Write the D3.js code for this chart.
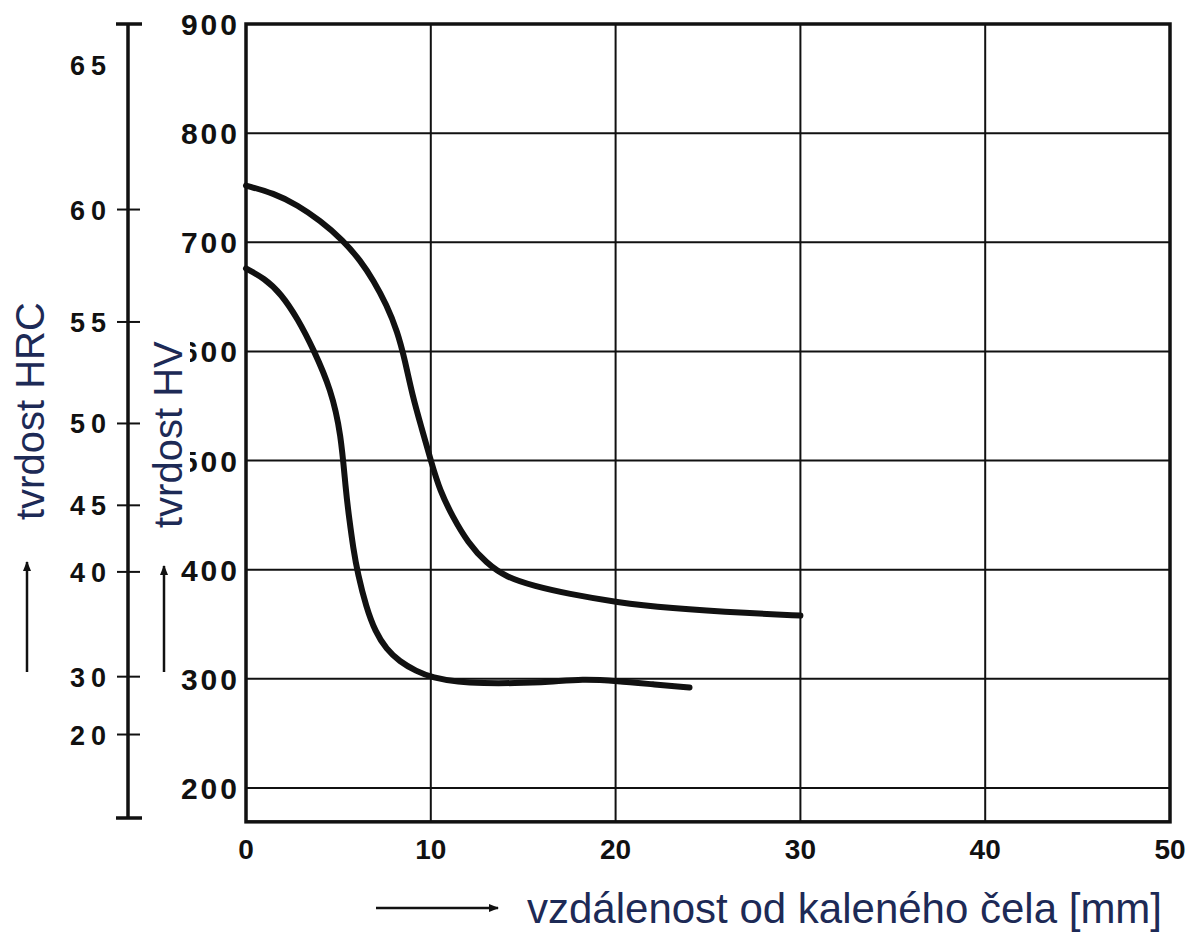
<!DOCTYPE html>
<html>
<head>
<meta charset="utf-8">
<script src="https://cdn.jsdelivr.net/npm/d3@7/dist/d3.min.js"></script>
<style>
  body { margin: 0; background: #fff; }
  svg { display: block; }
  .tick-num { font-family: "Liberation Sans", Arial, sans-serif; font-weight: bold; fill: #111; }
  .title { font-family: "Liberation Sans", Arial, sans-serif; fill: #1d2a56; }
</style>
</head>
<body>
<svg id="chart" width="1192" height="932"></svg>
<script>
// distance from quenched end [mm]
var xTicks = [0, 10, 20, 30, 40, 50];
var hvTicks = [200, 300, 400, 500, 600, 700, 800, 900];
// HRC scale drawn against the HV axis (HV equivalent of each HRC tick)
var hrcTicks = [65, 60, 55, 50, 45, 40, 30, 20];
var hrcAsHV = [862, 730, 627, 534, 459, 398, 302, 249];
var hrcTickShown = [false, true, true, true, true, true, true, true];

// upper curve
var upperX = [0, 1.5, 2.8, 4, 5.25, 6.2, 6.9, 7.6, 8.2, 8.6, 9.0, 9.5, 10.0, 10.5, 11.2, 12.0, 13.0, 14.1, 15.6, 17.4, 20.1, 22.8, 27.3, 30];
var upperHV = [752, 745, 734, 720, 702, 683, 665, 643, 618, 592, 560, 530, 500, 472, 448, 425, 406, 393, 385, 378, 370, 365, 360, 358];
// lower curve
var lowerX = [0, 1.0, 1.89, 2.8, 3.68, 4.6, 5.14, 5.4, 5.6, 5.8, 6.05, 6.5, 7.0, 7.6, 8.3, 9.2, 10.1, 11.5, 12.8, 14.5, 16.4, 18.2, 20.1, 22.0, 24.0];
var lowerHV = [676, 667, 653, 630, 601, 565, 525, 472, 445, 420, 396, 366, 343, 327, 316, 307, 301, 297, 296, 296, 297, 300, 298, 295, 292];

var svg = d3.select("#chart");

var x = d3.scaleLinear().domain([0, 50]).range([246, 1170]);
var y = d3.scaleLinear().domain([900, 200]).range([24, 788]);
var yBottom = 169; // HV value at the lower frame edge

// grid
var grid = svg.append("g").attr("stroke", "#111").attr("stroke-width", 2);
grid.selectAll(".hg").data(hvTicks).enter().append("line")
  .attr("x1", x(0)).attr("x2", x(50))
  .attr("y1", function (d) { return y(d); })
  .attr("y2", function (d) { return y(d); });
grid.selectAll(".vg").data(xTicks).enter().append("line")
  .attr("y1", y(900)).attr("y2", y(yBottom))
  .attr("x1", function (d) { return x(d); })
  .attr("x2", function (d) { return x(d); });

// frame
svg.append("rect")
  .attr("x", x(0)).attr("y", y(900))
  .attr("width", x(50) - x(0)).attr("height", y(yBottom) - y(900))
  .attr("fill", "none").attr("stroke", "#111").attr("stroke-width", 3.5);

// HV labels
svg.append("g").selectAll("text").data(hvTicks).enter().append("text")
  .attr("class", "tick-num")
  .attr("x", 240)
  .attr("y", function (d) { return y(d) + 11; })
  .attr("text-anchor", "end")
  .attr("font-size", 30)
  .attr("letter-spacing", 3)
  .text(function (d) { return d; });

// x labels
svg.append("g").selectAll("text").data(xTicks).enter().append("text")
  .attr("class", "tick-num")
  .attr("x", function (d) { return x(d); })
  .attr("y", 859)
  .attr("text-anchor", "middle")
  .attr("font-size", 28)
  .text(function (d) { return d; });

// HRC axis
var hrcX = 128;
var hrc = svg.append("g").attr("stroke", "#111");
hrc.append("line").attr("x1", hrcX).attr("x2", hrcX)
  .attr("y1", y(900)).attr("y2", 818).attr("stroke-width", 3.5);
hrc.append("line").attr("x1", hrcX - 12).attr("x2", hrcX + 14)
  .attr("y1", y(900)).attr("y2", y(900)).attr("stroke-width", 3.5);
hrc.append("line").attr("x1", hrcX - 12).attr("x2", hrcX + 14)
  .attr("y1", 818).attr("y2", 818).attr("stroke-width", 3.5);
hrc.selectAll(".ht").data(hrcAsHV.filter(function (d, i) { return hrcTickShown[i]; }))
  .enter().append("line")
  .attr("x1", hrcX - 11).attr("x2", hrcX + 12)
  .attr("y1", function (d) { return y(d); })
  .attr("y2", function (d) { return y(d); })
  .attr("stroke-width", 2);
svg.append("g").selectAll("text").data(hrcTicks).enter().append("text")
  .attr("class", "tick-num")
  .attr("x", 112)
  .attr("y", function (d, i) { return y(hrcAsHV[i]) + 10; })
  .attr("text-anchor", "end")
  .attr("font-size", 27)
  .attr("letter-spacing", 6)
  .text(function (d) { return d; });

// curves
var line = d3.line()
  .x(function (d) { return x(d[0]); })
  .y(function (d) { return y(d[1]); })
  .curve(d3.curveBasis);

var curves = [d3.zip(upperX, upperHV), d3.zip(lowerX, lowerHV)];
svg.append("g").selectAll("path").data(curves).enter().append("path")
  .attr("d", line)
  .attr("fill", "none")
  .attr("stroke", "#111")
  .attr("stroke-width", 6)
  .attr("stroke-linecap", "round");

// titles
var defs = svg.append("defs");
defs.append("marker").attr("id", "arr")
  .attr("viewBox", "0 0 10 10").attr("refX", 9).attr("refY", 5)
  .attr("markerWidth", 4).attr("markerHeight", 4).attr("orient", "auto")
  .append("path").attr("d", "M0,1 L10,5 L0,9 Z").attr("fill", "#111");

svg.append("rect").attr("x", 148).attr("y", 330).attr("width", 42).attr("height", 210).attr("fill", "#fff");

svg.append("text").attr("class", "title")
  .attr("transform", "translate(44,520) rotate(-90)")
  .attr("font-size", 40)
  .text("tvrdost HRC");
svg.append("text").attr("class", "title")
  .attr("transform", "translate(182,528) rotate(-90)")
  .attr("font-size", 40)
  .text("tvrdost HV");
svg.append("text").attr("class", "title")
  .attr("x", 527).attr("y", 923)
  .attr("font-size", 42)
  .text("vzdálenost od kaleného čela [mm]");

var arrows = [[27, 672, 27, 562], [164, 672, 164, 566], [376, 908, 498, 908]];
svg.append("g").selectAll("line").data(arrows).enter().append("line")
  .attr("x1", function (d) { return d[0]; }).attr("y1", function (d) { return d[1]; })
  .attr("x2", function (d) { return d[2]; }).attr("y2", function (d) { return d[3]; })
  .attr("stroke", "#111").attr("stroke-width", 2.5)
  .attr("marker-end", "url(#arr)");
</script>
</body>
</html>
